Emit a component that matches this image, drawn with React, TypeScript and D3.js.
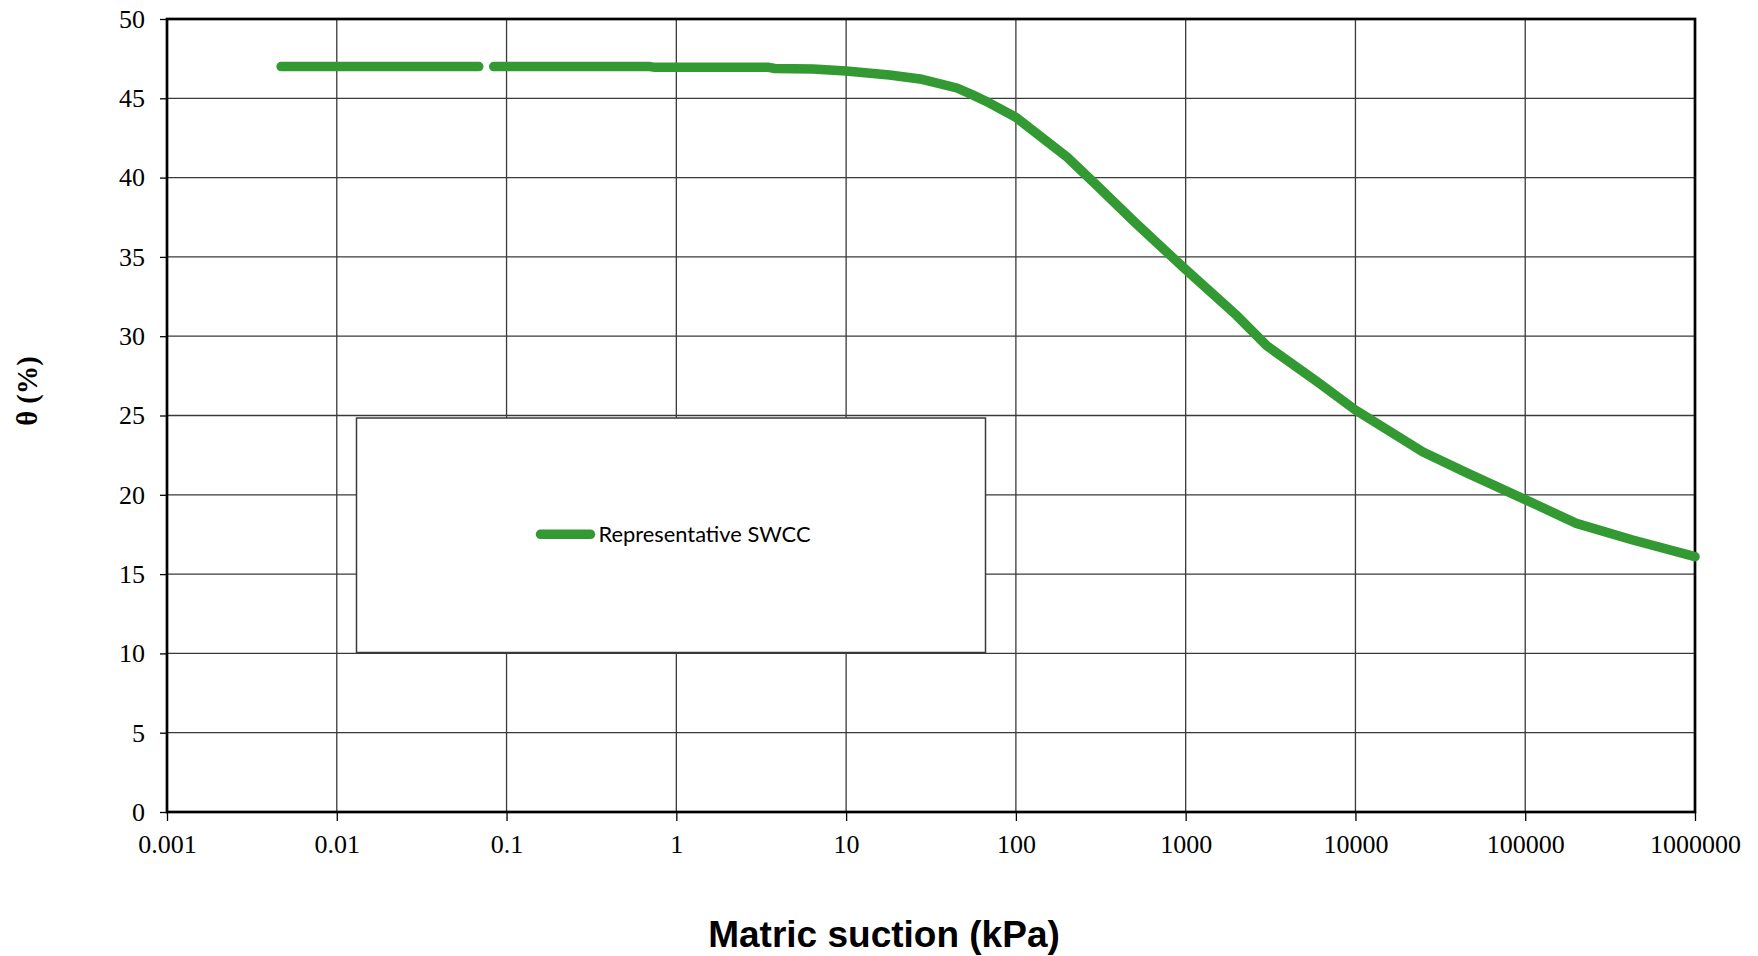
import { useEffect, useRef } from "react";
import * as d3 from "d3";

// matric suction (kPa) and volumetric water content (%)
// null = gap in the curve
const suction = [
  0.0047, 0.0686, 0.075, 0.084, 0.7, 0.75, 3.5, 3.8, 6.4, 10, 18, 28, 45, 56,
  70, 100, 200, 300, 500, 1000, 2000, 3000, 6000, 10000, 25000, 45000, 100000,
  200000, 430000, 1000000,
];
const theta = [
  47.0, 47.0, null, 47.0, 47.0, 46.95, 46.95, 46.88, 46.85, 46.72, 46.47, 46.2,
  45.65, 45.2, 44.7, 43.8, 41.3, 39.5, 37.2, 34.2, 31.3, 29.4, 27.1, 25.35,
  22.7, 21.4, 19.7, 18.2, 17.15, 16.1,
];

const xTicks = [0.001, 0.01, 0.1, 1, 10, 100, 1000, 10000, 100000, 1000000];
const xTickLabels = ["0.001", "0.01", "0.1", "1", "10", "100", "1000", "10000", "100000", "1000000"];
const yTicks = [0, 5, 10, 15, 20, 25, 30, 35, 40, 45, 50];

const seriesName = "Representative SWCC";

const App = () => {
  const svgRef = useRef(null);

  useEffect(() => {
    const W = 1758;
    const H = 956;
    const left = 167, right = 1695, top = 19, bottom = 812;

    const svg = d3.select(svgRef.current);
    svg.selectAll("*").remove();
    svg.attr("width", W).attr("height", H);

    const x = d3.scaleLog().domain([0.001, 1000000]).range([left, right]);
    const y = d3.scaleLinear().domain([0, 50]).range([bottom, top]);

    // сетка
    const grid = svg.append("g").attr("stroke", "#3a3a3a").attr("stroke-width", 1.3);
    grid
      .selectAll("line.v")
      .data(xTicks.slice(1, -1))
      .enter()
      .append("line")
      .attr("x1", (d) => x(d))
      .attr("x2", (d) => x(d))
      .attr("y1", top)
      .attr("y2", bottom);
    grid
      .selectAll("line.h")
      .data(yTicks.slice(1, -1))
      .enter()
      .append("line")
      .attr("x1", left)
      .attr("x2", right)
      .attr("y1", (d) => y(d))
      .attr("y2", (d) => y(d));

    // оси
    const xAxis = svg
      .append("g")
      .attr("transform", `translate(0,${bottom})`)
      .call(
        d3
          .axisBottom(x)
          .tickValues(xTicks)
          .tickSize(9)
          .tickPadding(14)
          .tickFormat((d, i) => xTickLabels[i])
      );
    xAxis.select(".domain").remove();
    xAxis.selectAll("line").attr("stroke", "#000").attr("stroke-width", 1.3);
    xAxis
      .selectAll("text")
      .attr("fill", "#000")
      .style("font-family", "'Liberation Serif', 'Times New Roman', serif")
      .style("font-size", "26px");

    const yAxis = svg
      .append("g")
      .attr("transform", `translate(${left},0)`)
      .call(d3.axisLeft(y).tickValues(yTicks).tickSize(7).tickPadding(15).tickFormat(d3.format("d")));
    yAxis.select(".domain").remove();
    yAxis.selectAll("line").attr("stroke", "#000").attr("stroke-width", 1.3);
    yAxis
      .selectAll("text")
      .attr("fill", "#000")
      .style("font-family", "'Liberation Serif', 'Times New Roman', serif")
      .style("font-size", "26px");

    // рамка
    svg
      .append("rect")
      .attr("x", left)
      .attr("y", top)
      .attr("width", right - left)
      .attr("height", bottom - top)
      .attr("fill", "none")
      .attr("stroke", "#000")
      .attr("stroke-width", 2.7);

    // кривая
    const pts = suction.map((s, i) => ({ s, t: theta[i] }));
    const line = d3
      .line()
      .defined((d) => d.t != null)
      .x((d) => x(d.s))
      .y((d) => y(d.t));

    svg
      .append("path")
      .datum(pts)
      .attr("d", line)
      .attr("fill", "none")
      .attr("stroke", "#339933")
      .attr("stroke-width", 9.5)
      .attr("stroke-linecap", "round")
      .attr("stroke-linejoin", "round");

    // легенда
    const lg = svg.append("g");
    lg.append("rect")
      .attr("x", 356.5)
      .attr("y", 418)
      .attr("width", 629)
      .attr("height", 234.5)
      .attr("fill", "#fff")
      .attr("stroke", "#3a3a3a")
      .attr("stroke-width", 1.5);
    lg.append("line")
      .attr("x1", 540.5)
      .attr("x2", 590.5)
      .attr("y1", 534.3)
      .attr("y2", 534.3)
      .attr("stroke", "#339933")
      .attr("stroke-width", 9.5)
      .attr("stroke-linecap", "round");
    lg.append("text")
      .attr("x", 598.5)
      .attr("y", 541.5)
      .attr("textLength", 212)
      .attr("lengthAdjust", "spacingAndGlyphs")
      .style("font-family", "Lato, 'Open Sans', sans-serif")
      .style("font-size", "21px")
      .attr("fill", "#000")
      .text(seriesName);

    // подписи осей
    svg
      .append("text")
      .attr("text-anchor", "middle")
      .attr("x", 884)
      .attr("y", 946.5)
      .style("font-family", "'Liberation Sans', Arial, sans-serif")
      .style("font-weight", "bold")
      .style("font-size", "37px")
      .attr("fill", "#000")
      .text("Matric suction (kPa)");

    svg
      .append("text")
      .attr("text-anchor", "middle")
      .attr("transform", "translate(37,391) rotate(-90)")
      .style("font-family", "'Liberation Serif', 'Times New Roman', serif")
      .style("font-weight", "bold")
      .style("font-size", "28.5px")
      .attr("fill", "#000")
      .text("θ (%)");
  }, []);

  return (
    <div>
      <svg ref={svgRef} style={{ position: "absolute", left: 0, top: 0, background: "#fff" }}></svg>
    </div>
  );
};

export default App;
